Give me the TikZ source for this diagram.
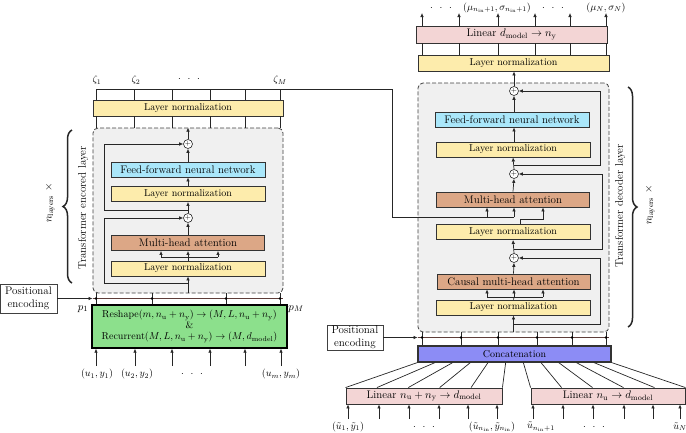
\documentclass[tikz,border=0pt]{standalone}
\usepackage{amsmath}
\usetikzlibrary{arrows.meta,decorations.pathreplacing,calc}

\definecolor{lnyellow}{RGB}{253,236,172}
\definecolor{ffncyan}{RGB}{170,231,250}
\definecolor{attbrown}{RGB}{220,167,134}
\definecolor{recgreen}{RGB}{140,224,140}
\definecolor{catblue}{RGB}{140,140,245}
\definecolor{linpink}{RGB}{243,213,213}
\definecolor{busbrown}{RGB}{95,62,58}

\newcommand{\txtA}{\fontsize{11}{13}\selectfont}
\newcommand{\txtB}{\fontsize{10}{12}\selectfont}
\newcommand{\threedots}{$\cdot\;\,\cdot\;\,\cdot$}

\tikzset{
    blk/.style={draw=black!80, line width=0.9pt, inner sep=0pt, minimum height=15pt, font=\txtA},
    lnbox/.style={blk, fill=lnyellow, minimum width=154pt, font=\txtB},
    ffnbox/.style={blk, fill=ffncyan, minimum width=154pt},
    attbox/.style={blk, fill=attbrown, minimum width=153pt},
    linbox/.style={blk, fill=linpink},
    catbox/.style={blk, fill=catblue, line width=1.1pt, font=\txtB},
    recbox/.style={blk, fill=recgreen, line width=1.3pt, draw=black, align=center, font=\txtB},
    posbox/.style={blk, draw=black!75, line width=0.6pt, fill=white, align=center, font=\txtA},
    blockbg/.style={draw=black!75, dash pattern=on 4pt off 2pt, rounded corners=5pt, fill=black!6, line width=0.8pt},
    plus/.style={circle, draw=black!85, fill=white, minimum size=9pt, inner sep=0pt, line width=0.6pt, font=\scriptsize},
    bus/.style={draw=busbrown, line width=1.1pt},
    brc/.style={decorate, decoration={brace, amplitude=9pt}, line width=1.5pt},
    lbl/.style={inner sep=0.5pt, font=\txtB},
    every node/.append style={font=\txtA}
}

\begin{document}
\begin{tikzpicture}[x=1pt, y=-1pt, line width=0.7pt, draw=black!85,
    >={Latex[length=4pt,width=3.6pt]}]
    \useasboundingbox (0,0) rectangle (686,432);

    % ---------------- encoder ----------------
    \node[blockbg, minimum width=190pt, minimum height=165pt] (encBlock) at (188,210.5) {};
    \node[lnbox, minimum width=190pt, minimum height=16pt] (lnTopE) at (188,108) {Layer normalization};
    \node[plus] (plusE1) at (188,144) {$+$};
    \node[ffnbox] (ffnE) at (188,169.5) {Feed-forward neural network};
    \node[lnbox] (lnE2) at (188,194) {Layer normalization};
    \node[plus] (plusE2) at (188,218) {$+$};
    \node[attbox] (mhaE) at (188,243) {Multi-head attention};
    \node[lnbox] (lnE1) at (188,268.5) {Layer normalization};
    \node[recbox, minimum width=195pt, minimum height=43pt] (recE) at (189.5,326.5)
        {Reshape$(m, n_{\text{u}}+n_{\text{y}}) \to (M, L, n_{\text{u}}+n_{\text{y}})$\\[-1pt]
         \&\\[-1pt]
         Recurrent$(M, L, n_{\text{u}}+n_{\text{y}}) \to (M, d_{\text{model}})$};
    \node[posbox, minimum width=57pt, minimum height=29pt] (posE) at (28.5,298.5) {Positional\\encoding};

    % main path through the encoder layer
    \coordinate (resE1) at (188,283);
    \coordinate (splitE1) at (188,257);
    \coordinate (splitE1l) at (161,257);
    \coordinate (splitE1r) at (218,257);
    \coordinate (resE2) at (188,210);
    \draw[->] (encBlock.south) -- (lnE1.south);
    \draw[->] (resE1) -- ++(-84,0) |- (plusE2.west);
    \draw (lnE1.north) -- (splitE1);
    \draw (splitE1l) -- (splitE1r);
    \foreach \c in {splitE1l,splitE1,splitE1r}
        \draw[->] (\c) -- (\c |- mhaE.south);
    \draw[->] (mhaE.north) -- (plusE2.south);
    \draw[->] (plusE2.north) -- (lnE2.south);
    \draw[->] (resE2) -- ++(-84,0) |- (plusE1.west);
    \draw[->] (lnE2.north) -- (ffnE.south);
    \draw[->] (ffnE.north) -- (plusE1.south);
    \draw[->] (plusE1.north) -- (encBlock.north);

    % outputs of the encoder
    \coordinate (zetaBus) at (96,89);
    \foreach \x in {96,134,172,210,245,280} {
        \draw (\x,0 |- encBlock.north) -- (\x,0 |- lnTopE.south);
        \draw (\x,0 |- lnTopE.north) -- (\x,0 |- zetaBus);
    }
    \node[lbl] (zeta1) at (97,80) {$\zeta_1$};
    \node[lbl] (zeta2) at (136,80) {$\zeta_2$};
    \node[lbl] (zetaDots) at (189,79) {\threedots};
    \node[lbl] (zetaM) at (280,80) {$\zeta_M$};

    % positional encoding of the encoder
    \draw[->] (posE.east) -- (posE.east -| encBlock.west);
    \draw[bus] (encBlock.west |- posE.east) -- (encBlock.east |- posE.east);
    \foreach \x in {96,152,226,280} {
        \draw (\x,0 |- recE.north) -- (\x,0 |- encBlock.south);
        \fill (\x,0 |- posE.east) circle (1.4pt);
    }
    \node (p1) at (83,309) {$p_1$};
    \node (pM) at (296,309) {$p_M$};

    % inputs of the encoder
    \foreach \x in {96,135,172,210,245,281}
        \draw[->] (\x,366) -- (\x,0 |- recE.south);
    \node[lbl] (inE1) at (97,374) {$(u_1, y_1)$};
    \node[lbl] (inE2) at (137,374) {$(u_2, y_2)$};
    \node[lbl] (inEdots) at (192,374) {\threedots};
    \node[lbl] (inEm) at (281,374) {$(u_m, y_m)$};

    % brace of the encoder
    \draw[brc] (72,283) -- (72,130);
    \node[rotate=90] (encLbl) at (83,208) {Transformer encored layer};
    \node[rotate=90] (encRep) at (50,203) {$n_{\text{layers}}\ \times$};

    % ---------------- decoder ----------------
    \node[blockbg, minimum width=191pt, minimum height=249pt] (decBlock) at (513.5,207.5) {};
    \node[linbox, minimum width=191pt, minimum height=17pt] (linOut) at (511.5,34.5) {Linear $d_{\text{model}} \to n_{\text{y}}$};
    \node[lnbox, minimum width=191pt, minimum height=16pt] (lnTopD) at (513.5,63) {Layer normalization};
    \node[plus] (plusD1) at (514,91) {$+$};
    \node[ffnbox] (ffnD) at (512,119.5) {Feed-forward neural network};
    \node[lnbox] (lnD3) at (513,149.5) {Layer normalization};
    \node[plus] (plusD2) at (514,174) {$+$};
    \node[attbox] (mhaD) at (513,199.5) {Multi-head attention};
    \node[lnbox] (lnD2) at (513,232) {Layer normalization};
    \node[plus] (plusD3) at (514,258) {$+$};
    \node[attbox] (cmhaD) at (513.5,281.5) {Causal multi-head attention};
    \node[lnbox] (lnD1) at (513.5,307.5) {Layer normalization};
    \node[catbox, minimum width=193pt, minimum height=16pt] (concat) at (514.5,354) {Concatenation};
    \node[posbox, minimum width=56pt, minimum height=25pt] (posD) at (355,337.5) {Positional\\encoding};
    \node[linbox, minimum width=156pt, minimum height=16pt] (linA) at (424,396) {Linear $n_{\text{u}}+n_{\text{y}} \to d_{\text{model}}$};
    \node[linbox, minimum width=154pt, minimum height=16pt] (linB) at (608,396) {Linear $n_{\text{u}} \to d_{\text{model}}$};

    % main path through the decoder layer
    \coordinate (resD1) at (514,324);
    \coordinate (splitD1) at (514,297);
    \coordinate (splitD1l) at (487,297);
    \coordinate (splitD1r) at (543,297);
    \coordinate (resD2) at (514,249);
    \coordinate (splitD2) at (520,219);
    \coordinate (splitD2r) at (543,219);
    \coordinate (resD3) at (514,165);
    \draw[->] (decBlock.south) -- (lnD1.south);
    \draw[->] (resD1) -- ++(86,0) |- (plusD3.east);
    \draw (lnD1.north) -- (splitD1);
    \draw (splitD1l) -- (splitD1r);
    \foreach \c in {splitD1l,splitD1,splitD1r}
        \draw[->] (\c) -- (\c |- cmhaD.south);
    \draw[->] (cmhaD.north) -- (plusD3.south);
    \draw[->] (plusD3.north) -- (lnD2.south);
    \draw[->] (resD2) -- ++(88,0) |- (plusD2.east);
    \draw[->] (splitD2 |- lnD2.north) -- (splitD2) -- (splitD2r) -- (splitD2r |- mhaD.south);
    \draw[->] (mhaD.north) -- (plusD2.south);
    \draw[->] (plusD2.north) -- (lnD3.south);
    \draw[->] (resD3) -- ++(86,0) |- (plusD1.east);
    \draw[->] (514,0 |- lnD3.north) -- (514,0 |- ffnD.south);
    \draw[->] (514,0 |- ffnD.north) -- (plusD1.south);
    \draw[->] (plusD1.north) -- (plusD1.north |- lnTopD.south);

    % encoder output into the cross attention
    \coordinate (crossE) at (392,89);
    \coordinate (memD) at (514,217);
    \coordinate (memL) at (487,217);
    \draw (zetaBus) -- (crossE) |- (memD);
    \draw[->] (memD) -- (memD |- mhaD.south);
    \draw[->] (memL) -- (memL |- mhaD.south);

    % outputs of the decoder
    \foreach \x in {422,459,498,535,570,606} {
        \draw (\x,0 |- lnTopD.north) -- (\x,0 |- linOut.south);
        \draw[->] (\x,0 |- linOut.north) -- (\x,13);
    }
    \node[lbl] (outDots1) at (441,8) {\threedots};
    \node[lbl] (outMid) at (497,7.5) {$(\mu_{n_{\text{in}}+1}, \sigma_{n_{\text{in}}+1})$};
    \node[lbl] (outDots2) at (553,8) {\threedots};
    \node[lbl] (outN) at (606,7.5) {$(\mu_N, \sigma_N)$};

    % positional encoding of the decoder
    \draw[->] (posD.east) -- (posD.east -| decBlock.west);
    \draw[bus] (decBlock.west |- posD.east) -- (decBlock.east |- posD.east);
    \foreach \x in {422,461,498,537,572,606} {
        \draw (\x,0 |- concat.north) -- (\x,0 |- decBlock.south);
        \fill (\x,0 |- posD.east) circle (1.4pt);
    }

    % fan from the linear layers into the concatenation
    \foreach \k in {0,...,5} {
        \draw ($(concat.south west)!\k/11!(concat.south east)$) -- ($(linA.north west)!\k/5!(linA.north east)$);
        \draw ($(concat.south west)!{(\k+6)/11}!(concat.south east)$) -- ($(linB.north west)!\k/5!(linB.north east)$);
    }

    % inputs of the decoder
    \foreach \x in {348,379,409,439,468,497}
        \draw[->] (\x,419) -- (\x,0 |- linA.south);
    \foreach \x in {533,563,593,624,653,680}
        \draw[->] (\x,419) -- (\x,0 |- linB.south);
    \node[lbl] (inD1) at (348,426.5) {$(\tilde{u}_1, \tilde{y}_1)$};
    \node[lbl] (inDdots1) at (424,427) {\threedots};
    \node[lbl] (inDin) at (492,426.5) {$(\tilde{u}_{n_{\text{in}}}, \tilde{y}_{n_{\text{in}}})$};
    \node[lbl] (inDnext) at (541,426.5) {$\tilde{u}_{n_{\text{in}}+1}$};
    \node[lbl] (inDdots2) at (594,427) {\threedots};
    \node[lbl] (inDN) at (680,426.5) {$\tilde{u}_N$};

    % brace of the decoder
    \draw[brc] (628,87) -- (628,327);
    \node[rotate=90] (decLbl) at (620,206) {Transformer decoder layer};
    \node[rotate=90] (decRep) at (650,205) {$n_{\text{layers}}\ \times$};

\end{tikzpicture}
\end{document}
